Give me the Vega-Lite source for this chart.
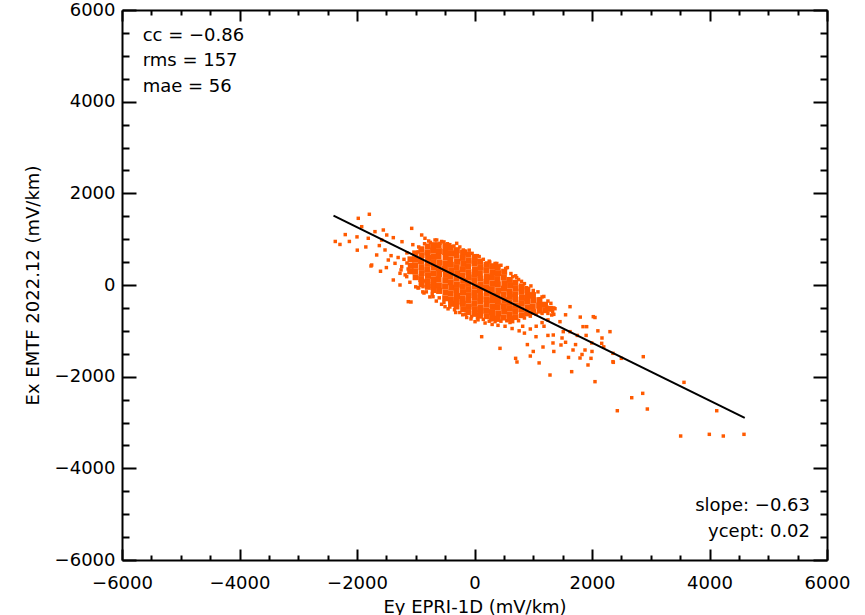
{
  "$schema": "https://vega.github.io/schema/vega-lite/v6.json",
  "width": 705,
  "height": 550,
  "autosize": {"type": "none"},
  "padding": {"left": 122, "top": 10, "right": 38, "bottom": 55},
  "background": "white",
  "config": {
    "view": {"stroke": null},
    "axis": {
      "grid": false,
      "domainColor": "black",
      "tickColor": "black",
      "labelColor": "black",
      "titleColor": "black",
      "labelFont": "DejaVu Sans",
      "titleFont": "DejaVu Sans",
      "labelFontSize": 18,
      "titleFontSize": 18,
      "titleFontWeight": "normal"
    }
  },
  "datasets": {
    "fringe": [
      {"x": -2370, "y": 950}, {"x": -2290, "y": 885}, {"x": -2130, "y": 950}, {"x": -1995, "y": 760},
      {"x": -1790, "y": 1543}, {"x": -1978, "y": 1455}, {"x": -1920, "y": 1272}, {"x": -1808, "y": 1019},
      {"x": -1694, "y": 1164}, {"x": -1552, "y": 1200}, {"x": -1494, "y": 1091}, {"x": -1382, "y": 1033},
      {"x": -1665, "y": 655}, {"x": -1750, "y": 436}, {"x": -1523, "y": 764}, {"x": -1467, "y": 545},
      {"x": -1353, "y": 473}, {"x": -1239, "y": 400}, {"x": -1154, "y": 182}, {"x": -1069, "y": 1236},
      {"x": -1382, "y": 109}, {"x": -1127, "y": -364}, {"x": -899, "y": 1091}, {"x": -1234, "y": 945},
      {"x": -843, "y": 1019}, {"x": -672, "y": 982}, {"x": -587, "y": 909}, {"x": -960, "y": 720},
      {"x": -984, "y": 582}, {"x": -1098, "y": 414}, {"x": -843, "y": 87}, {"x": -672, "y": 0},
      {"x": -860, "y": -175}, {"x": -962, "y": -65}, {"x": -1268, "y": 255}, {"x": -1268, "y": 0},
      {"x": -1081, "y": -371}, {"x": -877, "y": -36}, {"x": -706, "y": -255}, {"x": -502, "y": -473},
      {"x": -1762, "y": 415}, {"x": -643, "y": 982}, {"x": -303, "y": 909}, {"x": -190, "y": 764},
      {"x": 9, "y": 640}, {"x": 208, "y": 480}, {"x": 321, "y": 400}, {"x": 491, "y": 300},
      {"x": 718, "y": 160}, {"x": 889, "y": -60}, {"x": 1000, "y": -182}, {"x": 1115, "y": -300},
      {"x": 1229, "y": -480}, {"x": -133, "y": -709}, {"x": 122, "y": -1128}, {"x": 9, "y": -800},
      {"x": 281, "y": -764}, {"x": 434, "y": -1382}, {"x": 604, "y": -818}, {"x": 723, "y": -1680},
      {"x": 700, "y": -1600}, {"x": 1047, "y": -1128}, {"x": 1285, "y": -1964}, {"x": 1370, "y": -517},
      {"x": 1626, "y": -473}, {"x": 1455, "y": -800}, {"x": 1626, "y": -1018}, {"x": 1847, "y": -909},
      {"x": 2051, "y": -709}, {"x": 1654, "y": -1891}, {"x": 1796, "y": -1593}, {"x": 1881, "y": -1418},
      {"x": 1932, "y": -1745}, {"x": 1995, "y": -1265}, {"x": 2170, "y": -1156}, {"x": 2357, "y": -1491},
      {"x": 2357, "y": -1673}, {"x": 2051, "y": -2109}, {"x": 2306, "y": -1018}, {"x": 2873, "y": -1564},
      {"x": 1490, "y": -1156}, {"x": 1166, "y": -1353}, {"x": 1336, "y": -1265}, {"x": 1677, "y": -1418},
      {"x": 2863, "y": -2364}, {"x": 2676, "y": -2459}, {"x": 2431, "y": -2743}, {"x": 2942, "y": -2706},
      {"x": 3566, "y": -2124}, {"x": 4123, "y": -2743}, {"x": 3509, "y": -3295}, {"x": 3997, "y": -3258},
      {"x": 4235, "y": -3295}, {"x": 4587, "y": -3258}, {"x": 2363, "y": -1687}, {"x": 1720, "y": -1300},
      {"x": 1600, "y": -1580}, {"x": 2022, "y": -691}, {"x": 1909, "y": -909}, {"x": 2165, "y": -1273},
      {"x": 1830, "y": -1516}, {"x": 1983, "y": -1600}, {"x": 1472, "y": -1309}, {"x": 1183, "y": -900},
      {"x": 1341, "y": -1091}, {"x": 1511, "y": -1018}, {"x": 1314, "y": -655},
      {"x": -1150, "y": 700}, {"x": -1200, "y": 560}, {"x": -1050, "y": 880}, {"x": -780, "y": 960},
      {"x": -520, "y": 940}, {"x": -420, "y": 880}, {"x": -250, "y": 830}, {"x": -90, "y": 760},
      {"x": 80, "y": 620}, {"x": 150, "y": 560}, {"x": 260, "y": 500}, {"x": 380, "y": 470},
      {"x": 560, "y": 380}, {"x": 620, "y": 250}, {"x": 700, "y": 200}, {"x": 800, "y": 80},
      {"x": 960, "y": -20}, {"x": 1080, "y": -150}, {"x": 1180, "y": -250}, {"x": 1300, "y": -400},
      {"x": 1350, "y": -640}, {"x": 1250, "y": -760}, {"x": 1150, "y": -820}, {"x": 1050, "y": -900},
      {"x": 950, "y": -960}, {"x": 820, "y": -900}, {"x": 760, "y": -1000}, {"x": 640, "y": -950},
      {"x": 520, "y": -900}, {"x": 400, "y": -880}, {"x": 300, "y": -860}, {"x": 180, "y": -830},
      {"x": 60, "y": -760}, {"x": -60, "y": -740}, {"x": -200, "y": -650}, {"x": -320, "y": -600},
      {"x": -450, "y": -520}, {"x": -560, "y": -420}, {"x": -650, "y": -350}, {"x": -760, "y": -260},
      {"x": -880, "y": -150}, {"x": -1000, "y": -40}, {"x": -1100, "y": 60}, {"x": -1180, "y": 220},
      {"x": -1250, "y": 330}, {"x": -1300, "y": 600}, {"x": -1420, "y": 640}, {"x": -1580, "y": 980},
      {"x": -1620, "y": 860}, {"x": -2000, "y": 1050}, {"x": -2200, "y": 1100}, {"x": -1850, "y": 830},
      {"x": -1500, "y": 380}, {"x": -1600, "y": 300}, {"x": 900, "y": -1300}, {"x": 1000, "y": -1450},
      {"x": 1250, "y": -1100}, {"x": 1350, "y": -1450}, {"x": 1550, "y": -1250}, {"x": 1750, "y": -1100},
      {"x": 2000, "y": -1450}, {"x": 2200, "y": -1350}, {"x": 2500, "y": -1600}, {"x": 1100, "y": -1700},
      {"x": 850, "y": -1050}, {"x": 950, "y": -1550}, {"x": 1800, "y": -700}, {"x": 1550, "y": -650},
      {"x": 1900, "y": -1100}, {"x": 2100, "y": -1000},
      {"x": -1150, "y": 480}, {"x": -1130, "y": 350}, {"x": -950, "y": 830}, {"x": -850, "y": 900},
      {"x": -750, "y": 930}, {"x": -560, "y": 950}, {"x": -460, "y": 900}, {"x": -350, "y": 850},
      {"x": -150, "y": 740}, {"x": -40, "y": 690}, {"x": 50, "y": 640}, {"x": 250, "y": 520},
      {"x": 350, "y": 470}, {"x": 450, "y": 430}, {"x": 530, "y": 360}, {"x": 650, "y": 180},
      {"x": 750, "y": 120}, {"x": 850, "y": 30}, {"x": 1000, "y": -120}, {"x": 1150, "y": -260},
      {"x": 1250, "y": -350}, {"x": 1350, "y": -500}, {"x": 1330, "y": -580},
      {"x": -950, "y": -60}, {"x": -820, "y": -150}, {"x": -720, "y": -200}, {"x": -600, "y": -280},
      {"x": -520, "y": -380}, {"x": -420, "y": -480}, {"x": -340, "y": -540}, {"x": -250, "y": -600},
      {"x": -150, "y": -640}, {"x": -50, "y": -690}, {"x": 50, "y": -720}, {"x": 150, "y": -750},
      {"x": 250, "y": -790}, {"x": 350, "y": -800}, {"x": 450, "y": -790}, {"x": 550, "y": -780},
      {"x": 650, "y": -800}, {"x": 750, "y": -780}, {"x": 850, "y": -720}, {"x": 950, "y": -680},
      {"x": 1050, "y": -640}, {"x": 1150, "y": -620}, {"x": 1250, "y": -620}
    ],
    "core": [
      {"x": -1090, "y": 560}, {"x": -1085, "y": 420}, {"x": -1095, "y": 300},
      {"x": -1010, "y": 690}, {"x": -1005, "y": 560}, {"x": -1012, "y": 430}, {"x": -1008, "y": 300}, {"x": -1002, "y": 170},
      {"x": -905, "y": 780}, {"x": -900, "y": 650}, {"x": -910, "y": 520}, {"x": -903, "y": 390}, {"x": -898, "y": 260}, {"x": -907, "y": 130}, {"x": -901, "y": 20},
      {"x": -795, "y": 840}, {"x": -800, "y": 710}, {"x": -790, "y": 590}, {"x": -797, "y": 460}, {"x": -803, "y": 330}, {"x": -792, "y": 200}, {"x": -799, "y": 80}, {"x": -794, "y": -40},
      {"x": -700, "y": 870}, {"x": -705, "y": 750}, {"x": -698, "y": 620}, {"x": -702, "y": 500}, {"x": -696, "y": 380}, {"x": -704, "y": 250}, {"x": -699, "y": 120}, {"x": -701, "y": 0}, {"x": -695, "y": -110},
      {"x": -610, "y": 870}, {"x": -605, "y": 740}, {"x": -612, "y": 620}, {"x": -600, "y": 490}, {"x": -608, "y": 370}, {"x": -603, "y": 240}, {"x": -611, "y": 120}, {"x": -606, "y": -10}, {"x": -602, "y": -130},
      {"x": -495, "y": 850}, {"x": -500, "y": 720}, {"x": -492, "y": 600}, {"x": -498, "y": 470}, {"x": -503, "y": 350}, {"x": -490, "y": 220}, {"x": -497, "y": 100}, {"x": -501, "y": -30}, {"x": -494, "y": -160}, {"x": -499, "y": -290},
      {"x": -405, "y": 810}, {"x": -400, "y": 690}, {"x": -410, "y": 560}, {"x": -402, "y": 440}, {"x": -398, "y": 310}, {"x": -407, "y": 190}, {"x": -403, "y": 60}, {"x": -396, "y": -60}, {"x": -404, "y": -190}, {"x": -401, "y": -320}, {"x": -399, "y": -410},
      {"x": -300, "y": 760}, {"x": -305, "y": 640}, {"x": -297, "y": 510}, {"x": -302, "y": 390}, {"x": -296, "y": 260}, {"x": -303, "y": 140}, {"x": -299, "y": 10}, {"x": -304, "y": -110}, {"x": -298, "y": -240}, {"x": -301, "y": -360}, {"x": -306, "y": -470},
      {"x": -195, "y": 710}, {"x": -200, "y": 590}, {"x": -192, "y": 460}, {"x": -198, "y": 340}, {"x": -203, "y": 210}, {"x": -194, "y": 90}, {"x": -199, "y": -40}, {"x": -196, "y": -160}, {"x": -202, "y": -290}, {"x": -197, "y": -410}, {"x": -193, "y": -530},
      {"x": -105, "y": 660}, {"x": -100, "y": 530}, {"x": -108, "y": 410}, {"x": -102, "y": 280}, {"x": -97, "y": 160}, {"x": -106, "y": 30}, {"x": -101, "y": -90}, {"x": -99, "y": -220}, {"x": -104, "y": -340}, {"x": -98, "y": -470}, {"x": -103, "y": -590},
      {"x": 5, "y": 590}, {"x": 0, "y": 470}, {"x": 8, "y": 340}, {"x": 2, "y": 220}, {"x": -3, "y": 90}, {"x": 6, "y": -30}, {"x": 1, "y": -160}, {"x": 4, "y": -280}, {"x": -2, "y": -410}, {"x": 7, "y": -530}, {"x": 3, "y": -630},
      {"x": 95, "y": 510}, {"x": 100, "y": 390}, {"x": 92, "y": 260}, {"x": 98, "y": 140}, {"x": 103, "y": 10}, {"x": 94, "y": -110}, {"x": 99, "y": -240}, {"x": 96, "y": -360}, {"x": 102, "y": -490}, {"x": 97, "y": -610}, {"x": 93, "y": -670},
      {"x": 205, "y": 440}, {"x": 200, "y": 320}, {"x": 208, "y": 190}, {"x": 202, "y": 70}, {"x": 197, "y": -60}, {"x": 206, "y": -180}, {"x": 201, "y": -310}, {"x": 204, "y": -430}, {"x": 198, "y": -560}, {"x": 207, "y": -680},
      {"x": 300, "y": 410}, {"x": 305, "y": 280}, {"x": 297, "y": 160}, {"x": 302, "y": 30}, {"x": 296, "y": -90}, {"x": 303, "y": -220}, {"x": 299, "y": -340}, {"x": 304, "y": -470}, {"x": 298, "y": -590}, {"x": 301, "y": -720},
      {"x": 395, "y": 390}, {"x": 400, "y": 260}, {"x": 392, "y": 130}, {"x": 398, "y": 10}, {"x": 403, "y": -120}, {"x": 394, "y": -240}, {"x": 399, "y": -370}, {"x": 396, "y": -490}, {"x": 402, "y": -620}, {"x": 397, "y": -740},
      {"x": 505, "y": 290}, {"x": 500, "y": 170}, {"x": 508, "y": 40}, {"x": 502, "y": -80}, {"x": 497, "y": -210}, {"x": 506, "y": -330}, {"x": 501, "y": -460}, {"x": 504, "y": -580}, {"x": 498, "y": -710},
      {"x": 600, "y": 110}, {"x": 605, "y": -10}, {"x": 597, "y": -140}, {"x": 602, "y": -260}, {"x": 596, "y": -390}, {"x": 603, "y": -510}, {"x": 599, "y": -640}, {"x": 604, "y": -730},
      {"x": 695, "y": 50}, {"x": 700, "y": -70}, {"x": 692, "y": -200}, {"x": 698, "y": -320}, {"x": 703, "y": -450}, {"x": 694, "y": -570}, {"x": 699, "y": -700},
      {"x": 805, "y": -30}, {"x": 800, "y": -150}, {"x": 808, "y": -280}, {"x": 802, "y": -400}, {"x": 797, "y": -530}, {"x": 806, "y": -660},
      {"x": 900, "y": -110}, {"x": 905, "y": -240}, {"x": 897, "y": -360}, {"x": 902, "y": -490}, {"x": 896, "y": -620},
      {"x": 995, "y": -220}, {"x": 1000, "y": -340}, {"x": 992, "y": -470}, {"x": 998, "y": -590},
      {"x": 1105, "y": -330}, {"x": 1100, "y": -450}, {"x": 1108, "y": -560},
      {"x": 1200, "y": -430}, {"x": 1205, "y": -550},
      {"x": 1290, "y": -520}
    ],
    "fit": [
      {"x": -2400, "y": 1512},
      {"x": 4600, "y": -2898}
    ]
  },
  "resolve": {"axis": {"x": "independent", "y": "independent"}},
  "layer": [
    {
      "data": {"name": "fringe"},
      "mark": {"type": "point", "shape": "square", "filled": true, "size": 12, "opacity": 1, "color": "#ff5a00"},
      "encoding": {
        "x": {
          "field": "x", "type": "quantitative",
          "scale": {"domain": [-6000, 6000], "nice": false, "zero": false},
          "axis": {
            "orient": "bottom", "values": [-6000, -4000, -2000, 0, 2000, 4000, 6000], "format": "d",
            "tickSize": -11, "tickWidth": 2, "domainWidth": 2, "labelPadding": 25,
            "labelFlush": false, "labelOverlap": false,
            "title": "Ey EPRI-1D (mV/km)", "titlePadding": 6
          }
        },
        "y": {
          "field": "y", "type": "quantitative",
          "scale": {"domain": [-6000, 6000], "nice": false, "zero": false},
          "axis": {
            "orient": "left", "values": [-6000, -4000, -2000, 0, 2000, 4000, 6000], "format": "d",
            "tickSize": -14, "tickWidth": 2, "domainWidth": 2, "labelPadding": 21,
            "labelFlush": false, "labelOverlap": false,
            "title": "Ex EMTF 2022.12 (mV/km)", "titlePadding": 12
          }
        }
      }
    },
    {
      "data": {"name": "core"},
      "mark": {"type": "point", "shape": "square", "filled": true, "size": 36, "opacity": 1, "color": "#ff5a00"},
      "encoding": {
        "x": {
          "field": "x", "type": "quantitative",
          "scale": {"domain": [-6000, 6000], "nice": false, "zero": false},
          "axis": {
            "orient": "bottom",
            "values": [-5500, -5000, -4500, -3500, -3000, -2500, -1500, -1000, -500, 500, 1000, 1500, 2500, 3000, 3500, 4500, 5000, 5500],
            "tickSize": -5, "tickWidth": 2, "domain": false, "labels": false, "title": null
          }
        },
        "y": {
          "field": "y", "type": "quantitative",
          "scale": {"domain": [-6000, 6000], "nice": false, "zero": false},
          "axis": {
            "orient": "left",
            "values": [-5500, -5000, -4500, -3500, -3000, -2500, -1500, -1000, -500, 500, 1000, 1500, 2500, 3000, 3500, 4500, 5000, 5500],
            "tickSize": -7, "tickWidth": 2, "domain": false, "labels": false, "title": null
          }
        }
      }
    },
    {
      "data": {"name": "fit"},
      "mark": {"type": "line", "color": "black", "strokeWidth": 2},
      "encoding": {
        "x": {
          "field": "x", "type": "quantitative",
          "scale": {"domain": [-6000, 6000], "nice": false, "zero": false},
          "axis": {
            "orient": "top", "values": [-6000, -4000, -2000, 0, 2000, 4000, 6000],
            "tickSize": -11, "tickWidth": 2, "domainWidth": 2, "labels": false, "title": null
          }
        },
        "y": {
          "field": "y", "type": "quantitative",
          "scale": {"domain": [-6000, 6000], "nice": false, "zero": false},
          "axis": {
            "orient": "right", "values": [-6000, -4000, -2000, 0, 2000, 4000, 6000],
            "tickSize": -14, "tickWidth": 2, "domainWidth": 2, "labels": false, "title": null
          }
        }
      }
    },
    {
      "data": {"values": [{}]},
      "mark": {
        "type": "text", "text": ["cc = \u22120.86", "rms = 157", "mae = 56"],
        "align": "left", "baseline": "middle", "lineHeight": 25.5,
        "font": "DejaVu Sans", "fontSize": 18, "color": "black"
      },
      "encoding": {
        "x": {
          "datum": -5648, "type": "quantitative",
          "scale": {"domain": [-6000, 6000], "nice": false, "zero": false},
          "axis": {
            "orient": "top",
            "values": [-5500, -5000, -4500, -3500, -3000, -2500, -1500, -1000, -500, 500, 1000, 1500, 2500, 3000, 3500, 4500, 5000, 5500],
            "tickSize": -5, "tickWidth": 2, "domain": false, "labels": false, "title": null
          }
        },
        "y": {
          "datum": 5433, "type": "quantitative",
          "scale": {"domain": [-6000, 6000], "nice": false, "zero": false},
          "axis": {
            "orient": "right",
            "values": [-5500, -5000, -4500, -3500, -3000, -2500, -1500, -1000, -500, 500, 1000, 1500, 2500, 3000, 3500, 4500, 5000, 5500],
            "tickSize": -7, "tickWidth": 2, "domain": false, "labels": false, "title": null
          }
        }
      }
    },
    {
      "data": {"values": [{}]},
      "mark": {
        "type": "text", "text": ["slope: \u22120.63", "ycept: 0.02"],
        "align": "right", "baseline": "middle", "lineHeight": 26.7,
        "font": "DejaVu Sans", "fontSize": 18, "color": "black"
      },
      "encoding": {
        "x": {"datum": 5711, "type": "quantitative", "scale": {"domain": [-6000, 6000], "nice": false, "zero": false}, "axis": null},
        "y": {"datum": -4816, "type": "quantitative", "scale": {"domain": [-6000, 6000], "nice": false, "zero": false}, "axis": null}
      }
    }
  ]
}
